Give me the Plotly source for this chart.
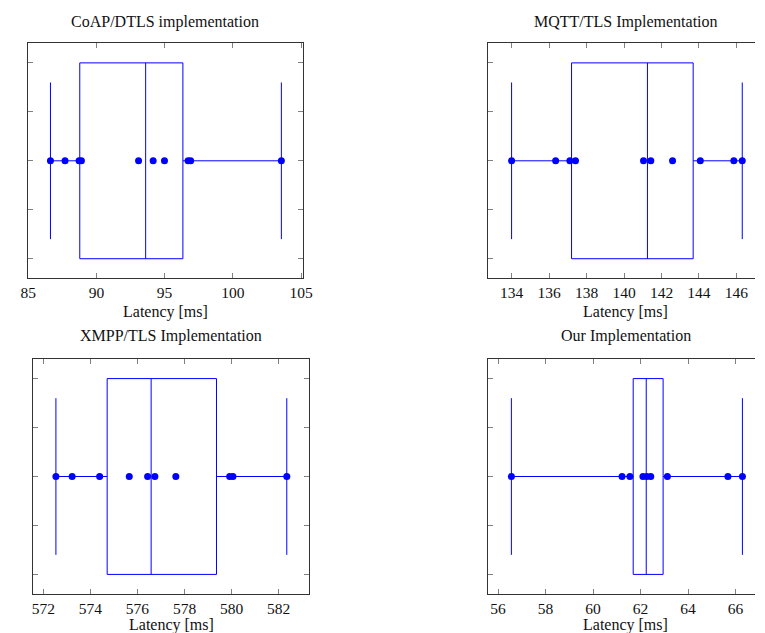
import plotly.graph_objects as go

# ---- data ----
titles = ["CoAP/DTLS implementation", "MQTT/TLS Implementation",
          "XMPP/TLS Implementation", "Our Implementation"]

coap_latency = [86.63, 87.70, 88.73, 88.90, 93.09, 94.16, 94.99, 96.72, 96.91, 103.56]
mqtt_latency = [134.0, 136.35, 137.11, 137.41, 141.04, 141.43, 142.59, 144.07, 145.86, 146.31]
xmpp_latency = [572.53, 573.22, 574.39, 575.65, 576.43, 576.74, 577.63, 579.92, 580.06, 582.35]
ours_latency = [56.56, 61.22, 61.55, 62.10, 62.26, 62.43, 63.13, 65.68, 66.29]

q1_values = [88.78, 137.20, 574.71, 61.69]
median_values = [93.61, 141.25, 576.58, 62.24]
q3_values = [96.34, 143.69, 579.36, 62.95]
lower_whiskers = [86.63, 134.0, 572.53, 56.56]
upper_whiskers = [103.56, 146.31, 582.35, 66.29]

x_ranges = [[84.95, 105.115], [132.76, 146.99], [571.56, 583.30], [55.59, 66.82]]
x_dticks = [5, 2, 2, 2]

series = [coap_latency, mqtt_latency, xmpp_latency, ours_latency]

# ---- layout geometry (pixels) ----
W, H = 765, 633
frames = [  # x0, x1, ytop, ybottom in px
    (21.0, 302.3, 43.3, 278.3),
    (492.3, 765.0, 43.3, 278.3),
    (26.7, 309.0, 359.0, 594.0),
    (492.3, 765.0, 359.0, 594.0),
]
title_centers = [(161.6, 21.7), (633.0, 21.7), (167.8, 336.0), (633.0, 336.0)]
xlabel_centers = [(161.6, 311.5), (633.0, 311.5), (167.8, 625.0), (633.0, 625.0)]

FONT = "Liberation Serif"
BLUE = "rgb(0,0,255)"
AXIS = "#333333"
TICK = "#808080"

fig = go.Figure()
annotations = []
for i in range(4):
    xa = "x" if i == 0 else f"x{i+1}"
    ya = "y" if i == 0 else f"y{i+1}"
    fig.add_trace(go.Box(
        orientation="h", y=[0],
        q1=[q1_values[i]], median=[median_values[i]], q3=[q3_values[i]],
        lowerfence=[lower_whiskers[i]], upperfence=[upper_whiskers[i]],
        width=4, whiskerwidth=0.8, boxpoints=False,
        line=dict(color=BLUE, width=1), fillcolor="rgba(0,0,0,0)",
        xaxis=xa, yaxis=ya, showlegend=False, hoverinfo="skip",
    ))
    fig.add_trace(go.Scatter(
        x=series[i], y=[0] * len(series[i]), mode="markers",
        marker=dict(color=BLUE, size=7),
        xaxis=xa, yaxis=ya, showlegend=False, hoverinfo="skip",
    ))
    x0, x1, yt, yb = frames[i]
    right_cut = x1 >= W
    xkey = "xaxis" if i == 0 else f"xaxis{i+1}"
    ykey = "yaxis" if i == 0 else f"yaxis{i+1}"
    fig.update_layout({
        xkey: dict(domain=[x0 / W, x1 / W], range=x_ranges[i], dtick=x_dticks[i],
                   tick0=0, anchor=ya, showgrid=False, zeroline=False,
                   showline=True, linecolor=AXIS, linewidth=1, mirror="ticks",
                   ticks="inside", ticklen=5, tickcolor=TICK, tickwidth=1,
                   tickfont=dict(family=FONT, size=15.5, color="#111")),
        ykey: dict(domain=[1 - yb / H, 1 - yt / H], range=[-2.4, 2.4],
                   tickvals=[-2, -1, 0, 1, 2], showticklabels=False,
                   anchor=xa, showgrid=False, zeroline=False,
                   showline=True, linecolor=AXIS, linewidth=1,
                   mirror=False if right_cut else "ticks",
                   ticks="inside", ticklen=5, tickcolor=TICK, tickwidth=1),
    })
    tx, ty = title_centers[i]
    annotations.append(dict(text=titles[i], x=tx / W, y=1 - ty / H, xref="paper", yref="paper",
                            xanchor="center", yanchor="middle", showarrow=False,
                            font=dict(family=FONT, size=16, color="#111")))
    lx, ly = xlabel_centers[i]
    annotations.append(dict(text="Latency [ms]", x=lx / W, y=1 - ly / H, xref="paper", yref="paper",
                            xanchor="center", yanchor="middle", showarrow=False,
                            font=dict(family=FONT, size=16, color="#111")))

fig.update_layout(width=W, height=H, margin=dict(l=0, r=0, t=0, b=0),
                  plot_bgcolor="white", paper_bgcolor="white",
                  annotations=annotations)

fig.write_html("out.html", config={"displayModeBar": False},
               post_script="document.body.style.margin='0';document.body.style.overflow='hidden';")
